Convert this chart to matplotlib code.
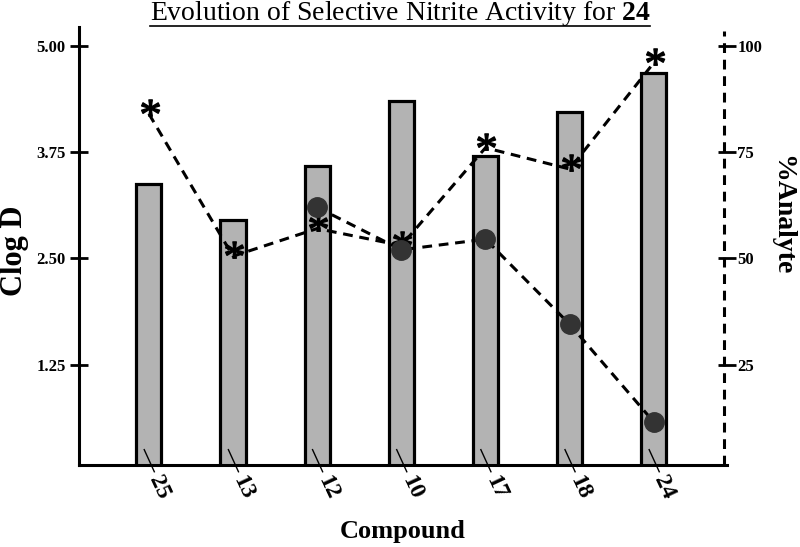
import numpy as np
import matplotlib
matplotlib.use("Agg")
import matplotlib.pyplot as plt
from matplotlib.textpath import TextPath
from matplotlib.font_manager import FontProperties
from matplotlib.path import Path
from matplotlib.lines import Line2D

compounds = ["25", "13", "12", "10", "17", "18", "24"]
clogd = [3.37, 2.95, 3.58, 4.35, 3.70, 4.22, 4.68]
analyte_star = [84, 50.5, 57, 53, 76, 71, 96]
circle_compounds = ["12", "10", "17", "18", "24"]
analyte_circle = [62, 52, 54.5, 34.5, 11.5]

plt.rcParams['font.family'] = ['Liberation Serif', 'DejaVu Serif']
plt.rcParams['mathtext.fontset'] = 'custom'
plt.rcParams['mathtext.rm'] = 'Liberation Serif'
plt.rcParams['mathtext.bf'] = 'Liberation Serif:bold'

# asterisk marker built from the serif glyph
tp = TextPath((0, 0), "*", prop=FontProperties(family='Liberation Serif'))
v = tp.vertices.copy()
v = v - (v.max(axis=0) + v.min(axis=0)) / 2
star = Path(v, tp.codes)

fig = plt.figure(figsize=(8, 5.47), dpi=100)
ax = fig.add_axes([0.09875, 0.150, 0.81, 0.8006])

x = np.arange(len(compounds))
ax.bar(x, clogd, width=0.30, color="#b3b3b3", edgecolor="black", linewidth=2.3, zorder=2)

ax.set_xlim(-0.83, 6.87)
ax.set_ylim(0.07, 5.22)
ax.set_yticks([1.25, 2.50, 3.75, 5.00])
ax.set_yticklabels(["1.25", "2.50", "3.75", "5.00"], fontsize=12, fontweight="bold")
ax.tick_params(axis="y", direction="inout", length=13, width=2, pad=3)
ax.set_xticks([])
for s in ["top", "right"]:
    ax.spines[s].set_visible(False)
ax.spines["left"].set_linewidth(2.2)
ax.spines["bottom"].set_linewidth(2.2)

# slanted tick marks and rotated labels
for i, lab in enumerate(compounds):
    ax.plot([i - 0.055, i + 0.065], [0.25, -0.01], color="black", lw=1.0,
            clip_on=False, zorder=3)
    ax.text(i + 0.065, -0.07, lab, rotation=-65, rotation_mode="anchor",
            ha="left", va="center", fontsize=17, fontweight="bold")

ax.set_xlabel("Compound", fontsize=19, fontweight="bold", va="center")
ax.xaxis.set_label_coords(0.5, -0.152)
ax.set_ylabel("Clog D", fontsize=22, fontweight="bold")
ax.yaxis.set_label_coords(-0.077, 0.49)

ax2 = ax.twinx()
ax2.set_ylim(1.4, 104.4)
ax2.set_yticks([25, 50, 75, 100])
ax2.set_yticklabels(["25", "50", "75", "100"], fontsize=12, fontweight="bold")
ax2.tick_params(axis="y", direction="inout", length=13, width=2, pad=1)
for s in ["top", "left", "bottom", "right"]:
    ax2.spines[s].set_visible(False)
ax2.axvline(6.83, ymax=0.99, color="black", lw=2.2, linestyle=(0, (3.2, 2.2)), clip_on=False)
ax2.set_ylabel("%Analyte", fontsize=20, fontweight="bold", rotation=-90, va="center")
ax2.yaxis.set_label_coords(1.084, 0.57)

ax2.plot(x, analyte_star, color="black", lw=2.2, linestyle=(0, (3.2, 2.2)), zorder=3)
ax2.plot(x, analyte_star, linestyle="none", marker=star, markersize=21,
         color="black", zorder=4)
xc = [compounds.index(c) for c in circle_compounds]
ax2.plot(xc, analyte_circle, color="black", lw=2.2, linestyle=(0, (3.2, 2.2)), zorder=3)
ax2.plot(xc, analyte_circle, linestyle="none", marker="o", markersize=14,
         color="#333333", zorder=4)
ax2.set_xlim(ax.get_xlim())

title = fig.text(0.5, 0.976, r"Evolution of Selective Nitrite Activity for $\mathbf{24}$",
                 ha="center", va="center", fontsize=20)
fig.canvas.draw()
bb = title.get_window_extent().transformed(fig.transFigure.inverted())
fig.add_artist(Line2D([bb.x0, bb.x1], [bb.y0 + 0.003, bb.y0 + 0.003],
                      color="black", lw=1.2, transform=fig.transFigure))

fig.savefig("out.png", dpi=100)
